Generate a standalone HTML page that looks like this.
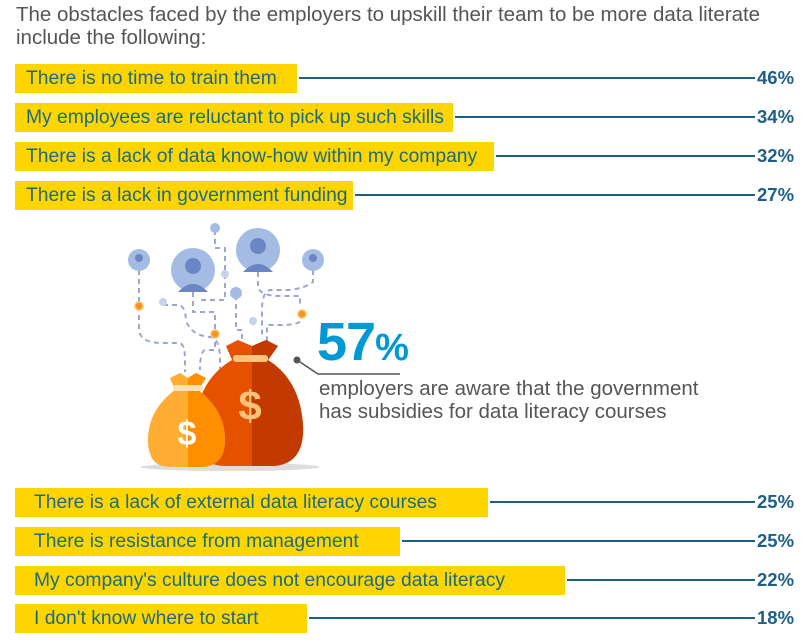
<!DOCTYPE html>
<html><head><meta charset="utf-8"><style>
body{margin:0;width:810px;height:642px;background:#fff;font-family:"Liberation Sans",sans-serif;position:relative;overflow:hidden}
.t{position:absolute;left:16px;top:3px;font-size:20.5px;line-height:23px;color:#555;white-space:nowrap}
.bar{position:absolute;left:15px;height:29px;background:#FFD500;color:#1a6b80;font-size:19.3px;line-height:29px;box-sizing:border-box;white-space:nowrap}
.ln{position:absolute;height:2px;background:#1d5f86}
.p{position:absolute;left:757px;font-size:18.5px;font-weight:bold;color:#1d5f86;line-height:20px}
</style></head><body>
<div class="t">The obstacles faced by the employers to upskill their team to be more data literate<br>include the following:</div>

<div class="bar" style="top:64px;width:282px;padding-left:11px">There is no time to train them</div>
<div class="ln" style="top:77px;left:299px;width:456px"></div><div class="p" style="top:68px">46%</div>
<div class="bar" style="top:103px;width:438px;padding-left:11px">My employees are reluctant to pick up such skills</div>
<div class="ln" style="top:116px;left:455px;width:300px"></div><div class="p" style="top:107px">34%</div>
<div class="bar" style="top:142px;width:479px;padding-left:11px">There is a lack of data know-how within my company</div>
<div class="ln" style="top:155px;left:496px;width:259px"></div><div class="p" style="top:146px">32%</div>
<div class="bar" style="top:181px;width:338px;padding-left:11px">There is a lack in government funding</div>
<div class="ln" style="top:194px;left:355px;width:400px"></div><div class="p" style="top:185px">27%</div>

<div class="bar" style="top:488px;width:473px;padding-left:19px">There is a lack of external data literacy courses</div>
<div class="ln" style="top:501px;left:490px;width:265px"></div><div class="p" style="top:492px">25%</div>
<div class="bar" style="top:527px;width:385px;padding-left:19px">There is resistance from management</div>
<div class="ln" style="top:540px;left:402px;width:353px"></div><div class="p" style="top:531px">25%</div>
<div class="bar" style="top:566px;width:550px;padding-left:19px">My company's culture does not encourage data literacy</div>
<div class="ln" style="top:579px;left:567px;width:188px"></div><div class="p" style="top:570px">22%</div>
<div class="bar" style="top:604px;width:292px;padding-left:19px">I don't know where to start</div>
<div class="ln" style="top:617px;left:309px;width:446px"></div><div class="p" style="top:608px">18%</div>

<svg style="position:absolute;left:0;top:0" width="810" height="642">
<g fill="none" stroke="#9aa6d6" stroke-width="2" stroke-dasharray="5,4">
<path d="M139 270 V330 Q140 342 160 343 H180 Q185 345 185 360 V372"/>
<path d="M163 305 H178 Q185 305 186 320 Q190 335 210 337 Q220 338 220 360 V372"/>
<path d="M193 292 V312 H215 V350 H205 Q200 352 200 370"/>
<path d="M215 230 V248 H225 V300 H200"/>
<path d="M236 295 V330 H242 V345"/>
<path d="M258 272 V288 Q262 296 280 296 H300 V305"/>
<path d="M313 270 V282 Q305 288 290 290 H270 Q262 292 262 310 V335"/>
<path d="M301 313 V320 Q300 325 280 325 H267 V345"/>
</g>
<g fill="#a4bce4"><circle cx="139" cy="260" r="11"/><circle cx="193" cy="270" r="22"/><circle cx="258" cy="250" r="22"/><circle cx="313" cy="260" r="11"/><circle cx="215" cy="228" r="5"/><circle cx="236" cy="293" r="6"/></g>
<g fill="#6a86c4"><circle cx="139" cy="258" r="4"/><circle cx="193" cy="266" r="8"/><circle cx="258" cy="246" r="8"/><circle cx="313" cy="258" r="4"/><path d="M178 292 Q193 276 208 292Z"/><path d="M243 272 Q258 256 273 272Z"/></g>
<g fill="#c8d2ea"><circle cx="225" cy="274" r="4"/><circle cx="163" cy="302" r="4"/><circle cx="253" cy="321" r="4"/></g>
<g fill="#f7941d" stroke="#ffc36a" stroke-width="1.5"><circle cx="139" cy="306" r="4"/><circle cx="215" cy="334" r="4"/><circle cx="302" cy="314" r="4"/></g>
<ellipse cx="230" cy="467" rx="90" ry="4" fill="#ddd"/>
<path d="M226 346 L238 340 L252 346 L266 340 L278 346 L268 360 Q300 380 303 425 Q305 466 270 466 H225 Q193 466 195 425 Q198 380 232 360Z" fill="#e65100"/>
<path d="M252 346 L266 340 L278 346 L268 360 Q300 380 303 425 Q305 466 270 466 H252Z" fill="#c23a00"/>
<rect x="233" y="355" width="35" height="7" rx="3" fill="#ffc27a"/>
<text x="250" y="420" font-size="42" font-weight="bold" fill="#ffc27a" text-anchor="middle" font-family="Liberation Sans,sans-serif">$</text>
<path d="M170 378 L180 373 L188 378 L196 373 L206 378 L198 390 Q225 410 225 440 Q225 467 200 467 H170 Q148 467 148 440 Q148 410 175 390Z" fill="#ffad33"/>
<path d="M188 378 L196 373 L206 378 L198 390 Q225 410 225 440 Q225 467 200 467 H188Z" fill="#ff8f00"/>
<rect x="173" y="385" width="30" height="6" rx="3" fill="#ffe0b0"/>
<text x="187" y="445" font-size="34" font-weight="bold" fill="#fff" text-anchor="middle" font-family="Liberation Sans,sans-serif">$</text>
<circle cx="297" cy="360" r="3.5" fill="#555"/>
<path d="M297 360 L318 374 H400" stroke="#555" stroke-width="1.5" fill="none"/>
</svg>
<div style="position:absolute;left:317px;top:314px;font-size:54px;font-weight:bold;color:#0099d4;line-height:56px;letter-spacing:-1px">57<span style="font-size:38px">%</span></div>
<div style="position:absolute;left:319px;top:377px;font-size:20.5px;line-height:23px;color:#555;white-space:nowrap">employers are aware that the government<br>has subsidies for data literacy courses</div>
</body></html>
